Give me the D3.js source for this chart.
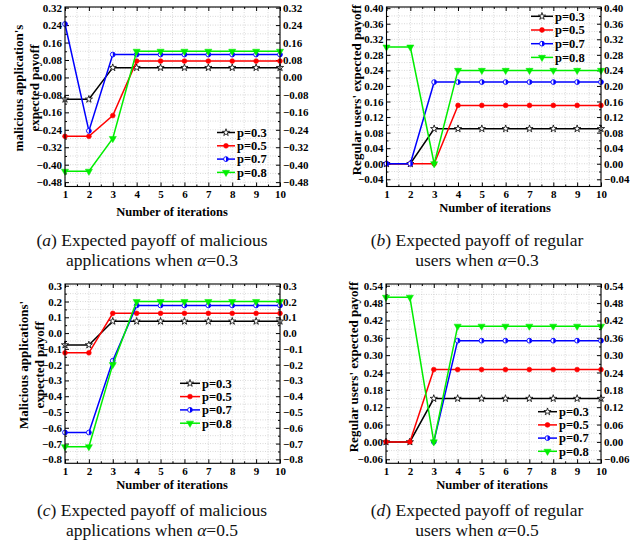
<!DOCTYPE html>
<html>
<head>
<meta charset="utf-8">
<script src="https://cdn.jsdelivr.net/npm/d3@7"></script>
<style>
  body { margin: 0; background: #fff; }
  text { font-family: "Liberation Serif", "Times New Roman", serif; }
</style>
</head>
<body>
<div class="chart"></div>
<script>

var width = 635,
  height = 547;

// DATA
var iterations = [1, 2, 3, 4, 5, 6, 7, 8, 9, 10];
var seriesNames = ['p=0.3', 'p=0.5', 'p=0.7', 'p=0.8'];

// (a) malicious applications, alpha = 0.3
var aP03 = [-0.10, -0.10, 0.045, 0.045, 0.045, 0.045, 0.045, 0.045, 0.045, 0.045];
var aP05 = [-0.27, -0.27, -0.175, 0.075, 0.075, 0.075, 0.075, 0.075, 0.075, 0.075];
var aP07 = [0.245, -0.245, 0.105, 0.105, 0.105, 0.105, 0.105, 0.105, 0.105, 0.105];
var aP08 = [-0.43, -0.43, -0.28, 0.12, 0.12, 0.12, 0.12, 0.12, 0.12, 0.12];

// (b) regular users, alpha = 0.3
var bP03 = [0, 0, 0.09, 0.09, 0.09, 0.09, 0.09, 0.09, 0.09, 0.09];
var bP05 = [0, 0, 0, 0.15, 0.15, 0.15, 0.15, 0.15, 0.15, 0.15];
var bP07 = [0, 0, 0.21, 0.21, 0.21, 0.21, 0.21, 0.21, 0.21, 0.21];
var bP08 = [0.30, 0.30, 0, 0.24, 0.24, 0.24, 0.24, 0.24, 0.24, 0.24];

// (c) malicious applications, alpha = 0.5
var cP03 = [-0.075, -0.075, 0.075, 0.075, 0.075, 0.075, 0.075, 0.075, 0.075, 0.075];
var cP05 = [-0.125, -0.125, 0.125, 0.125, 0.125, 0.125, 0.125, 0.125, 0.125, 0.125];
var cP07 = [-0.63, -0.63, -0.175, 0.175, 0.175, 0.175, 0.175, 0.175, 0.175, 0.175];
var cP08 = [-0.72, -0.72, -0.20, 0.20, 0.20, 0.20, 0.20, 0.20, 0.20, 0.20];

// (d) regular users, alpha = 0.5 (p=0.7 starts at iteration 3)
var dP03 = [0, 0, 0.15, 0.15, 0.15, 0.15, 0.15, 0.15, 0.15, 0.15];
var dP05 = [0, 0, 0.25, 0.25, 0.25, 0.25, 0.25, 0.25, 0.25, 0.25];
var dP07 = [null, null, 0, 0.35, 0.35, 0.35, 0.35, 0.35, 0.35, 0.35];
var dP08 = [0.50, 0.50, 0, 0.40, 0.40, 0.40, 0.40, 0.40, 0.40, 0.40];

// tick labels
var aTicks = [-0.48, -0.40, -0.32, -0.24, -0.16, -0.08, 0.00, 0.08, 0.16, 0.24, 0.32];
var bTicks = [-0.04, 0.00, 0.04, 0.08, 0.12, 0.16, 0.20, 0.24, 0.28, 0.32, 0.36, 0.40];
var cTicks = [-0.8, -0.7, -0.6, -0.5, -0.4, -0.3, -0.2, -0.1, 0.0, 0.1, 0.2, 0.3];
var dTicks = [-0.06, 0.00, 0.06, 0.12, 0.18, 0.24, 0.30, 0.36, 0.42, 0.48, 0.54];

var colors = ['#000000', '#ff0000', '#0000ff', '#00ee00'];

var svg = d3.select('.chart')
  .append('svg')
  .attr('width', width)
  .attr('height', height);

var panels = [
  { // (a)
    box: [65, 280, 7, 186.5], yDomain: [-0.5, 0.323], ticks: aTicks, step: 0.08, fmt: '.2f',
    series: [aP03, aP05, aP07, aP08],
    title: ["malicious application's", 'expected payoff'], titleX: [18, 34], titleY: 88,
    legend: [217, 235, 132.5, 13.3],
    xTitle: [172, 212]
  },
  { // (b)
    box: [386.5, 601, 7, 186.5], yDomain: [-0.0585, 0.403], ticks: bTicks, step: 0.04, fmt: '.2f',
    series: [bP03, bP05, bP07, bP08],
    title: ["Regular users'  expected payoff"], titleX: [356], titleY: 90,
    legend: [531, 553, 16.3, 13.7],
    xTitle: [495, 208]
  },
  { // (c)
    box: [65, 280, 284, 463.3], yDomain: [-0.825, 0.311], ticks: cTicks, step: 0.1, fmt: '.1f',
    series: [cP03, cP05, cP07, cP08],
    title: ["Malicious applications'", 'expected payoff'], titleX: [23, 39], titleY: 365,
    legend: [180, 200, 383.3, 13.3],
    xTitle: [172, 485]
  },
  { // (d)
    box: [386, 601, 284, 463.3], yDomain: [-0.074, 0.546], ticks: dTicks, step: 0.06, fmt: '.2f',
    series: [dP03, dP05, dP07, dP08],
    title: ["Regular users' expected payoff"], titleX: [353], titleY: 367,
    legend: [538, 557, 411.7, 13.2],
    xTitle: [492, 485]
  }
];

//MARKERS
function drawMarker(g, i, x, y) {
  if (i === 0) {
    g.append('path')
      .attr('d', d3.symbol().type(d3.symbolStar).size(16)())
      .attr('transform', 'translate(' + x + ',' + y + ')')
      .attr('fill', '#fff').attr('stroke', colors[0]).attr('stroke-width', 0.8);
  } else if (i === 1) {
    g.append('circle').attr('cx', x).attr('cy', y).attr('r', 2.4)
      .attr('fill', colors[1]).attr('stroke', colors[1]).attr('stroke-width', 0.6);
  } else if (i === 2) {
    g.append('circle').attr('cx', x).attr('cy', y).attr('r', 2.4)
      .attr('fill', '#fff').attr('stroke', colors[2]).attr('stroke-width', 0.9);
    g.append('path') // right half filled
      .attr('d', 'M' + x + ',' + (y - 2.4) + 'A2.4,2.4 0 0,1 ' + x + ',' + (y + 2.4) + 'Z')
      .attr('fill', colors[2]);
  } else {
    g.append('path')
      .attr('d', d3.symbol().type(d3.symbolTriangle).size(22)())
      .attr('transform', 'translate(' + x + ',' + y + ') rotate(180)')
      .attr('fill', colors[3]).attr('stroke', colors[3]).attr('stroke-width', 0.5);
  }
}

panels.forEach(function(p) {
  var left = p.box[0], right = p.box[1], top = p.box[2], bottom = p.box[3];
  var g = svg.append('g');

  //ADD SCALE
  var xScale = d3.scaleLinear().domain([1, 10]).range([left, right]);
  var yScale = d3.scaleLinear().domain(p.yDomain).range([bottom, top]);

  var yMinor = p.ticks.map(function(t) { return t + p.step / 2; })
    .filter(function(t) { return t < p.yDomain[1]; });
  yMinor.unshift(p.ticks[0] - p.step / 2);
  yMinor = yMinor.filter(function(t) { return t > p.yDomain[0]; });
  var xMinor = d3.range(1.5, 10, 1);

  //GRID
  var grid = g.append('g')
    .attr('stroke', '#c8c8c8').attr('stroke-width', 0.7).attr('stroke-dasharray', '1,1.5');
  iterations.concat(xMinor).forEach(function(v) {
    grid.append('line').attr('x1', xScale(v)).attr('x2', xScale(v)).attr('y1', top).attr('y2', bottom);
  });
  p.ticks.concat(yMinor).forEach(function(v) {
    grid.append('line').attr('x1', left).attr('x2', right).attr('y1', yScale(v)).attr('y2', yScale(v));
  });

  //ADD AXIS (ticks pointing inward)
  var fmt = d3.format(p.fmt);
  function styleAxis(sel) {
    sel.select('.domain').remove();
    sel.selectAll('text')
      .attr('font-family', '"Liberation Serif", "Times New Roman", serif')
      .attr('font-weight', 'bold').attr('font-size', 11).attr('fill', '#000');
    sel.selectAll('line').attr('stroke', '#000');
  }
  g.append('g').attr('transform', 'translate(' + left + ',0)')
    .call(d3.axisLeft(yScale).tickValues(p.ticks).tickFormat(fmt).tickSize(-4).tickPadding(3))
    .call(styleAxis);
  g.append('g').attr('transform', 'translate(' + right + ',0)')
    .call(d3.axisRight(yScale).tickValues(p.ticks).tickFormat(fmt).tickSize(-4).tickPadding(3))
    .call(styleAxis);
  g.append('g').attr('transform', 'translate(' + left + ',0)')
    .call(d3.axisLeft(yScale).tickValues(yMinor).tickFormat('').tickSize(-2))
    .call(styleAxis);
  g.append('g').attr('transform', 'translate(' + right + ',0)')
    .call(d3.axisRight(yScale).tickValues(yMinor).tickFormat('').tickSize(-2))
    .call(styleAxis);
  g.append('g').attr('transform', 'translate(0,' + bottom + ')')
    .call(d3.axisBottom(xScale).tickValues(iterations).tickFormat(d3.format('d')).tickSize(-4).tickPadding(4))
    .call(styleAxis);
  g.append('g').attr('transform', 'translate(0,' + top + ')')
    .call(d3.axisTop(xScale).tickValues(iterations).tickFormat('').tickSize(-4))
    .call(styleAxis);
  g.append('g').attr('transform', 'translate(0,' + bottom + ')')
    .call(d3.axisBottom(xScale).tickValues(xMinor).tickFormat('').tickSize(-2))
    .call(styleAxis);
  g.append('g').attr('transform', 'translate(0,' + top + ')')
    .call(d3.axisTop(xScale).tickValues(xMinor).tickFormat('').tickSize(-2))
    .call(styleAxis);

  //LINES
  var line = d3.line()
    .defined(function(d) { return d[1] !== null; })
    .x(function(d) { return xScale(d[0]); })
    .y(function(d) { return yScale(d[1]); });

  p.series.forEach(function(vals, i) {
    var pts = iterations.map(function(it, k) { return [it, vals[k]]; });
    g.append('path').datum(pts)
      .attr('d', line)
      .attr('fill', 'none')
      .attr('stroke', colors[i])
      .attr('stroke-width', 1.5);
    var mg = g.append('g');
    pts.forEach(function(d) {
      if (d[1] !== null) drawMarker(mg, i, xScale(d[0]), yScale(d[1]));
    });
  });

  //FRAME
  g.append('rect')
    .attr('x', left).attr('y', top)
    .attr('width', right - left).attr('height', bottom - top)
    .attr('fill', 'none').attr('stroke', '#000').attr('stroke-width', 1.1);

  //LEGEND
  seriesNames.forEach(function(name, i) {
    var ly = p.legend[2] + i * p.legend[3];
    g.append('line')
      .attr('x1', p.legend[0]).attr('x2', p.legend[1])
      .attr('y1', ly).attr('y2', ly)
      .attr('stroke', colors[i]).attr('stroke-width', 1.5);
    drawMarker(g.append('g'), i, (p.legend[0] + p.legend[1]) / 2, ly);
    g.append('text')
      .attr('x', p.legend[1] + 2).attr('y', ly)
      .attr('dy', '0.35em')
      .attr('font-weight', 'bold').attr('font-size', 12.5)
      .text(name);
  });

  //AXIS TITLES
  p.title.forEach(function(t, k) {
    g.append('text')
      .attr('transform', 'translate(' + p.titleX[k] + ',' + p.titleY + ') rotate(-90)')
      .attr('text-anchor', 'middle').attr('dy', '0.35em')
      .attr('font-weight', 'bold').attr('font-size', 13)
      .text(t);
  });
  g.append('text')
    .attr('x', p.xTitle[0]).attr('y', p.xTitle[1])
    .attr('text-anchor', 'middle').attr('dy', '0.35em')
    .attr('font-weight', 'bold').attr('font-size', 12.5)
    .text('Number of iterations');
});

//CAPTIONS
var captions = [
  { x: 152, y: 240, tag: 'a', l1: ' Expected payoff of malicious', l2: 'applications when ', alpha: '0.3' },
  { x: 477, y: 240, tag: 'b', l1: ' Expected payoff of regular', l2: 'users when ', alpha: '0.3' },
  { x: 152, y: 510, tag: 'c', l1: ' Expected payoff of malicious', l2: 'applications when ', alpha: '0.5' },
  { x: 477, y: 510, tag: 'd', l1: ' Expected payoff of regular', l2: 'users when ', alpha: '0.5' }
];

captions.forEach(function(c) {
  var t1 = svg.append('text')
    .attr('x', c.x).attr('y', c.y).attr('dy', '0.35em')
    .attr('text-anchor', 'middle').attr('font-size', 17.5).attr('fill', '#111');
  t1.append('tspan').text('(');
  t1.append('tspan').attr('font-style', 'italic').text(c.tag);
  t1.append('tspan').text(')' + c.l1);
  var t2 = svg.append('text')
    .attr('x', c.x).attr('y', c.y + 20).attr('dy', '0.35em')
    .attr('text-anchor', 'middle').attr('font-size', 17.5).attr('fill', '#111');
  t2.append('tspan').text(c.l2);
  t2.append('tspan').attr('font-style', 'italic').text('α');
  t2.append('tspan').text('=' + c.alpha);
});

</script>
</body>
</html>
